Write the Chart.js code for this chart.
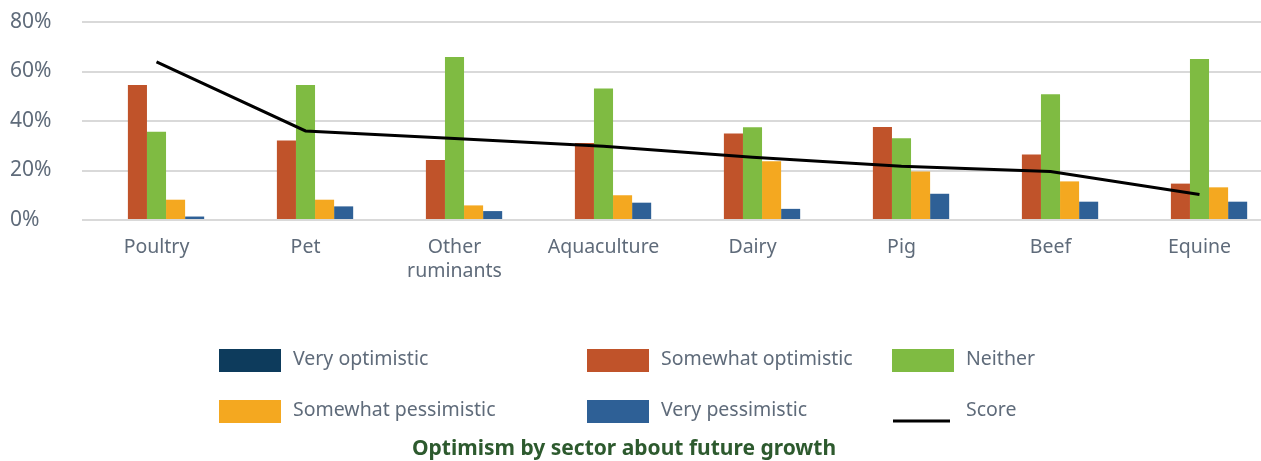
<!DOCTYPE html>
<html>
<head>
<meta charset="utf-8">
<script src="https://cdn.jsdelivr.net/npm/chart.js@4/dist/chart.umd.min.js"></script>
<style>
    body { margin: 0; background: #fff; overflow: hidden; }
    #wrap { width: 1274px; height: 461px; }
</style>
</head>
<body>
<div id="wrap"><canvas id="chart" width="1274" height="461"></canvas></div>
<script>
// data (percent)
const sectors = ['Poultry', 'Pet', ['Other', 'ruminants'], 'Aquaculture', 'Dairy', 'Pig', 'Beef', 'Equine'];
const veryOptimistic = [0, 0, 0, 0, 0, 0, 0, 0];
const somewhatOptimistic = [54.5, 32.1, 24.2, 31.1, 34.9, 37.6, 26.5, 14.7];
const neither = [35.7, 54.5, 65.9, 53.1, 37.5, 33.0, 50.8, 65.1];
const somewhatPessimistic = [8.2, 8.2, 5.9, 10.0, 23.7, 19.6, 15.6, 13.2];
const veryPessimistic = [1.4, 5.5, 3.6, 7.0, 4.5, 10.6, 7.4, 7.4];
const score = [63.9, 36.0, 32.9, 29.8, 25.4, 21.7, 19.6, 10.3];
const yTicks = [0, 20, 40, 60, 80];

const font = "'Noto Sans', 'DejaVu Sans', sans-serif";
const textGrey = '#5f6b7a';

// legend grid + caption under the chart
const bottomLegend = {
    id: 'bottomLegend',
    afterDraw(c) {
        const ctx = c.ctx;
        const cols = [219, 587, 892];
        const rows = [349, 400];
        ctx.save();
        ctx.font = '19.5px ' + font;
        ctx.textBaseline = 'middle';
        ctx.textAlign = 'left';
        c.data.datasets.forEach((ds, i) => {
            const x = cols[i % 3];
            const y = rows[Math.floor(i / 3)];
            if (ds.type === 'line') {
                ctx.strokeStyle = ds.borderColor;
                ctx.lineWidth = 3;
                ctx.beginPath();
                ctx.moveTo(x + 1, y + 21);
                ctx.lineTo(x + 58, y + 21);
                ctx.stroke();
            } else {
                ctx.fillStyle = ds.backgroundColor;
                ctx.fillRect(x, y, 62, 23);
            }
            ctx.fillStyle = textGrey;
            ctx.fillText(ds.label, x + 74, y + 10);
        });
        ctx.font = 'bold 21px ' + font;
        ctx.fillStyle = '#2d5a2e';
        ctx.textAlign = 'center';
        ctx.fillText('Optimism by sector about future growth', 624, 449);
        ctx.restore();
    }
};

const ctx = document.querySelector('#chart').getContext('2d');
new Chart(ctx, {
    data: {
        labels: sectors,
        datasets: [
            { type: 'bar', label: 'Very optimistic', data: veryOptimistic, backgroundColor: '#0d3b5c', order: 1 },
            { type: 'bar', label: 'Somewhat optimistic', data: somewhatOptimistic, backgroundColor: '#c0532a', order: 1 },
            { type: 'bar', label: 'Neither', data: neither, backgroundColor: '#7fbb42', order: 1 },
            { type: 'bar', label: 'Somewhat pessimistic', data: somewhatPessimistic, backgroundColor: '#f4a820', order: 1 },
            { type: 'bar', label: 'Very pessimistic', data: veryPessimistic, backgroundColor: '#2e6096', order: 1 },
            { type: 'line', label: 'Score', data: score, borderColor: '#000', borderWidth: 3, pointRadius: 0, tension: 0, order: 0 }
        ]
    },
    options: {
        responsive: false,
        animation: false,
        layout: { padding: { top: 22, left: 10, right: 0, bottom: 0 } },
        datasets: { bar: { categoryPercentage: 0.64, barPercentage: 1 } },
        plugins: { legend: { display: false }, tooltip: { enabled: false } },
        scales: {
            x: {
                grid: { display: false },
                border: { display: false },
                ticks: { color: textGrey, font: { size: 19.5, family: font }, padding: 8, maxRotation: 0 },
                afterFit(scale) { scale.height = 241; }
            },
            y: {
                min: 0,
                max: 80,
                afterBuildTicks(scale) { scale.ticks = yTicks.map(v => ({ value: v })); },
                grid: { color: '#d9d9d9', lineWidth: 2, drawTicks: false },
                border: { display: false },
                ticks: { color: textGrey, font: { size: 21, family: font }, padding: 0, crossAlign: 'far', callback: v => v + '%' },
                afterFit(scale) { scale.width = 72; }
            }
        }
    },
    plugins: [bottomLegend]
});
</script>
</body>
</html>
